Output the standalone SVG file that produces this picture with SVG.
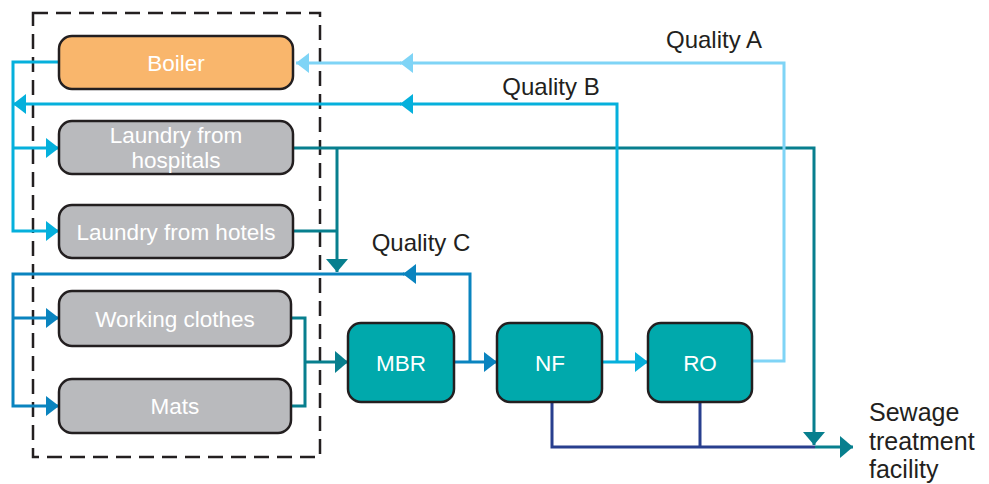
<svg xmlns="http://www.w3.org/2000/svg" width="989" height="484" viewBox="0 0 989 484">
<style>
.box{stroke:#231f20;stroke-width:2.5}
.grey{fill:#b9babd}
.orange{fill:#f9b66c}
.tealbox{fill:#00a9ac}
.bt{font-family:"Liberation Sans",Arial,sans-serif;font-size:22.5px;fill:#ffffff;text-anchor:middle}
.lb{font-family:"Liberation Sans",Arial,sans-serif;font-size:24px;fill:#231f20}
.sw{font-size:25px}
.ln{fill:none;stroke-width:3}
.qa{stroke:#7fd4f6}
.qb{stroke:#05b0dc}
.qc{stroke:#0a84bf}
.tl{stroke:#077f8e}
.nv{stroke:#283f8e}
</style>
<defs>
<marker id="mA" markerUnits="userSpaceOnUse" markerWidth="13" markerHeight="20" viewBox="0 0 13 20" refX="13" refY="10" orient="auto"><path d="M0,0 L13,10 L0,20 z" fill="#7fd4f6"/></marker>
<marker id="mB" markerUnits="userSpaceOnUse" markerWidth="13" markerHeight="20" viewBox="0 0 13 20" refX="13" refY="10" orient="auto"><path d="M0,0 L13,10 L0,20 z" fill="#05b0dc"/></marker>
<marker id="mC" markerUnits="userSpaceOnUse" markerWidth="13" markerHeight="20" viewBox="0 0 13 20" refX="13" refY="10" orient="auto"><path d="M0,0 L13,10 L0,20 z" fill="#0a84bf"/></marker>
<marker id="mT" markerUnits="userSpaceOnUse" markerWidth="13" markerHeight="22" viewBox="0 0 13 22" refX="13" refY="11" orient="auto"><path d="M0,0 L13,11 L0,22 z" fill="#077f8e"/></marker>
</defs>

<rect id="boundary" x="33" y="13" width="287" height="444" fill="none" stroke="#231f20" stroke-width="2.5" stroke-dasharray="15 8"/>

<g id="connectors">
  <path class="ln tl" d="M293,148 H814 V445" marker-end="url(#mT)"/>
  <path class="ln tl" d="M293,231 H337"/>
  <path class="ln tl" d="M337,148 V272" marker-end="url(#mT)"/>
  <path class="ln tl" d="M291,318 H305 V406 H291"/>
  <path class="ln tl" d="M305,362 H348" marker-end="url(#mT)"/>
  <path class="ln nv" d="M552,402 V447 H815"/>
  <path class="ln nv" d="M700,402 V447"/>
  <path class="ln tl" d="M815,447 H853" marker-end="url(#mT)"/>
  <path class="ln qc" d="M454,362 H497" marker-end="url(#mC)"/>
  <path class="ln qc" d="M470,362 V274 H403" marker-end="url(#mC)"/>
  <path class="ln qc" d="M404,274 H13 V406 H59" marker-end="url(#mC)"/>
  <path class="ln qc" d="M13,318 H59" marker-end="url(#mC)"/>
  <path class="ln qb" d="M602,362 H648" marker-end="url(#mB)"/>
  <path class="ln qb" d="M617,362 V104 H400" marker-end="url(#mB)"/>
  <path class="ln qb" d="M401,104 H13" marker-end="url(#mB)"/>
  <path class="ln qb" d="M59,62 H13 V231 H59" marker-end="url(#mB)"/>
  <path class="ln qb" d="M13,148 H59" marker-end="url(#mB)"/>
  <path class="ln qa" d="M752,361 H784 V63 H400" marker-end="url(#mA)"/>
  <path class="ln qa" d="M401,63 H296" marker-end="url(#mA)"/>
</g>

<g id="labels">
  <text class="lb" x="714" y="48" text-anchor="middle">Quality A</text>
  <text class="lb" x="551" y="95" text-anchor="middle">Quality B</text>
  <text class="lb" x="421" y="251" text-anchor="middle">Quality C</text>
  <text class="lb sw" x="869" y="421">Sewage</text>
  <text class="lb sw" x="869" y="450">treatment</text>
  <text class="lb sw" x="869" y="478">facility</text>
</g>

<g id="boiler"><rect class="box orange" x="59" y="36" width="234" height="53" rx="13"/><text class="bt" x="176" y="71">Boiler</text></g>
<g id="hospitals"><rect class="box grey" x="59" y="121" width="234" height="53" rx="13"/><text class="bt" x="176" y="143">Laundry from</text><text class="bt" x="176" y="168">hospitals</text></g>
<g id="hotels"><rect class="box grey" x="59" y="205" width="234" height="53" rx="13"/><text class="bt" x="176" y="240">Laundry from hotels</text></g>
<g id="working"><rect class="box grey" x="59" y="291" width="232" height="55" rx="13"/><text class="bt" x="175" y="327">Working clothes</text></g>
<g id="mats"><rect class="box grey" x="59" y="379" width="232" height="54" rx="13"/><text class="bt" x="175" y="414">Mats</text></g>
<g id="mbr"><rect class="box tealbox" x="348" y="323" width="106" height="79" rx="13"/><text class="bt" x="401" y="371">MBR</text></g>
<g id="nf"><rect class="box tealbox" x="497" y="323" width="105" height="79" rx="13"/><text class="bt" x="550" y="371">NF</text></g>
<g id="ro"><rect class="box tealbox" x="648" y="323" width="104" height="79" rx="13"/><text class="bt" x="700" y="371">RO</text></g>
</svg>
